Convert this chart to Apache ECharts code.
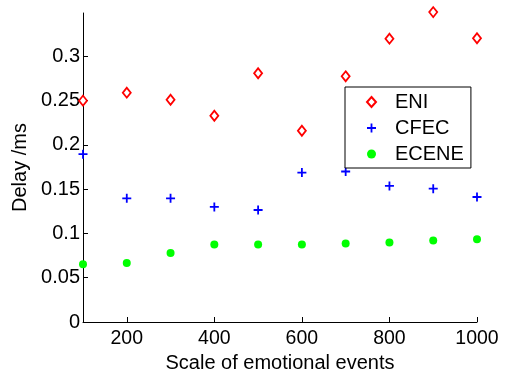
<!DOCTYPE html>
<html>
<head>
<meta charset="utf-8">
<script src="https://cdn.jsdelivr.net/npm/echarts@6/dist/echarts.min.js"></script>
<style>
  html, body { margin: 0; padding: 0; background: #fff; }
  #main { width: 507px; height: 370px; }
</style>
</head>
<body>
<div id="main"></div>
<script>
  const scales = [100, 200, 300, 400, 500, 600, 700, 800, 900, 1000]
  const eni = [0.250, 0.259, 0.251, 0.233, 0.281, 0.216, 0.2775, 0.320, 0.350, 0.3205]
  const cfec = [0.1896, 0.1397, 0.1397, 0.130, 0.1265, 0.1688, 0.170, 0.1537, 0.1506, 0.1412]
  const ecene = [0.0653, 0.0665, 0.078, 0.0876, 0.0876, 0.0876, 0.0888, 0.0899, 0.0921, 0.0936]
  const xTicks = [200, 400, 600, 800, 1000]
  const yTicks = [0, 0.05, 0.1, 0.15, 0.2, 0.25, 0.3]

  const font = 'Liberation Sans, Arial, Helvetica, sans-serif'
  const pair = (ys) => scales.map((x, i) => [x, ys[i]])
  const plus = 'path://M4,0H6V4H10V6H6V10H4V6H0V4H4Z'

  const myChart = echarts.init(document.getElementById('main'))
  const option = {
    animation: false,
    backgroundColor: '#fff',
    textStyle: { fontFamily: font },
    grid: { left: 83, right: 30, top: 13, bottom: 48, containLabel: false, outerBoundsMode: 'none' },
    xAxis: {
      type: 'value',
      min: 100,
      max: 1000,
      name: 'Scale of emotional events',
      nameLocation: 'middle',
      nameGap: 25,
      nameTextStyle: { color: '#000', fontSize: 20, fontFamily: font },
      axisLine: { lineStyle: { color: '#000', width: 1 } },
      axisTick: { inside: true, length: 5, lineStyle: { color: '#000' }, customValues: xTicks },
      axisLabel: {
        color: '#000', fontSize: 19.5, fontFamily: font, margin: 7, customValues: xTicks,
        formatter: (v) => String(v),
      },
      splitLine: { show: false },
    },
    yAxis: {
      type: 'value',
      min: 0,
      max: 0.349,
      name: 'Delay /ms',
      nameLocation: 'middle',
      nameGap: 44,
      nameTextStyle: { color: '#000', fontSize: 20, fontFamily: font },
      axisLine: { show: true, lineStyle: { color: '#000', width: 1 } },
      axisTick: { show: true, inside: true, length: 5, lineStyle: { color: '#000' }, customValues: yTicks },
      axisLabel: { color: '#000', fontSize: 20, fontFamily: font, margin: 3, customValues: yTicks },
      splitLine: { show: false },
    },
    legend: {
      orient: 'vertical',
      left: 345,
      top: 87,
      padding: [5, 7, 4, 21],
      itemWidth: 9,
      itemHeight: 10,
      itemGap: 6,
      borderColor: '#000',
      borderWidth: 1,
      backgroundColor: '#fff',
      textStyle: { color: '#000', fontSize: 20, lineHeight: 20, fontFamily: font, padding: [0, 0, 0, 14] },
      data: ['ENI', 'CFEC', 'ECENE'],
    },
    series: [
      {
        name: 'ENI',
        type: 'scatter',
        symbol: 'diamond',
        symbolSize: [8, 10],
        clip: false,
        itemStyle: { color: '#fff', borderColor: '#ff0000', borderWidth: 1.8, opacity: 1 },
        data: pair(eni),
      },
      {
        name: 'CFEC',
        type: 'scatter',
        symbol: plus,
        symbolSize: 9,
        clip: false,
        itemStyle: { color: '#0000ff', opacity: 1 },
        data: pair(cfec),
      },
      {
        name: 'ECENE',
        type: 'scatter',
        symbol: 'circle',
        symbolSize: 8,
        clip: false,
        itemStyle: { color: '#00ff00', opacity: 1 },
        data: pair(ecene),
      },
    ],
  }
  myChart.setOption(option)
</script>
</body>
</html>
